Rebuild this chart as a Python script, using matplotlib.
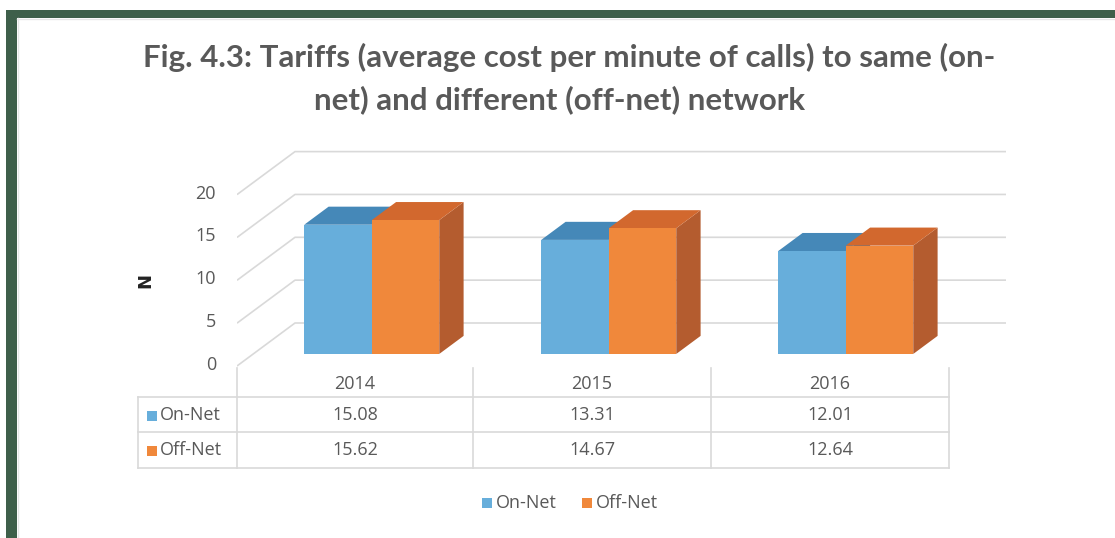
import matplotlib
matplotlib.use("Agg")
import matplotlib.pyplot as plt
from matplotlib.patches import Polygon, Rectangle
from matplotlib.transforms import ScaledTranslation

# ---------------- data ----------------
categories = ["2014", "2015", "2016"]
series_names = ["On-Net", "Off-Net"]
on_net = [15.08, 13.31, 12.01]
off_net = [15.62, 14.67, 12.64]
yticks = [0, 5, 10, 15, 20]
title_lines = ["Fig. 4.3: Tariffs (average cost per minute of calls) to same (on-",
               "net) and different (off-net) network"]
ylabel = "N"

# ---------------- style ----------------
W_PX, H_PX = 1115, 538
TXT = "#595959"
GRID = "#d9d9d9"
GREEN = "#3e5f4a"
front_cols = ["#67aedb", "#f0883b"]
top_cols = ["#4588b8", "#d2682e"]
side_cols = ["#3f7aa6", "#b45c2f"]
TFONT = "Lato"
FONT = "Open Sans"
FS = 13

fig = plt.figure(figsize=(W_PX / 100, H_PX / 100), dpi=100)
fig.patch.set_facecolor("white")

# decoration axes in pixel coordinates (layout only)
deco = fig.add_axes([0, 0, 1, 1])
deco.set_xlim(0, W_PX)
deco.set_ylim(H_PX, 0)
deco.axis("off")

# border
deco.add_patch(Rectangle((6, 10), W_PX - 6, 8, color=GREEN, lw=0))
deco.add_patch(Rectangle((6, 10), 11, H_PX - 10, color=GREEN, lw=0))
deco.plot([17, W_PX], [18.8, 18.8], color="#e6e6e6", lw=1)
deco.plot([18, 18], [18, H_PX], color="#e6e6e6", lw=1)

# title
deco.text(569, 57, title_lines[0], ha="center", va="center", fontsize=22.5,
          fontweight="bold", color=TXT, family=TFONT)
deco.text(560, 100, title_lines[1], ha="center", va="center", fontsize=22.5,
          fontweight="bold", color=TXT, family=TFONT)

# ---------------- main plot axes (value units) ----------------
y0px = 366.0
ppu = 8.57            # pixels per value unit
x_left_px, cat_px = 237.0, 237.0
xlim = (-0.5, 2.75)
ylim = (-0.5, 26.0)
ax_left = x_left_px / W_PX
ax_w = (xlim[1] - xlim[0]) * cat_px / W_PX
bottom_px = y0px - ylim[0] * ppu
top_px = y0px - ylim[1] * ppu
ax = fig.add_axes([ax_left, (H_PX - bottom_px) / H_PX, ax_w, (bottom_px - top_px) / H_PX])
ax.set_xlim(*xlim)
ax.set_ylim(*ylim)
ax.axis("off")
ax.patch.set_alpha(0)

DX = 58.0 / cat_px     # full depth, category units
DY = 43.0 / ppu        # full depth, value units
ncat = len(categories)

# gridlines: left wall diagonal + back wall
for v in yticks:
    ax.plot([-0.5, -0.5 + DX, ncat - 0.5 + DX], [v, v + DY, v + DY],
            color=GRID, lw=1.2, zorder=1, solid_capstyle="butt")
    ax.text(-0.5, v, str(v), ha="right", va="center", fontsize=FS,
            color=TXT, family=FONT,
            transform=ax.transData + ScaledTranslation(-21 / 100, 1 / 100, fig.dpi_scale_trans))

ax.text(-0.5, 10, ylabel, ha="center", va="center", rotation=90, fontsize=13,
        fontweight="bold", color="#222222", family="DejaVu Sans",
        transform=ax.transData + ScaledTranslation(-92 / 100, 0, fig.dpi_scale_trans))

# 3D bars
BW = 67.5 / cat_px
f1, f2 = 0.28, 0.70
for i in range(ncat):
    for j, vals in enumerate([on_net, off_net]):
        v = vals[i]
        x0 = i - BW + j * BW
        xa, xb = x0 + f1 * DX, x0 + BW + f1 * DX
        ya = f1 * DY
        xc, xd = x0 + f2 * DX, x0 + BW + f2 * DX
        yb = f2 * DY
        z = 3 + j
        ax.add_patch(Polygon([(xb, ya), (xd, yb), (xd, v + yb), (xb, v + ya)],
                             closed=True, fc=side_cols[j], ec="none", zorder=z))
        ax.add_patch(Polygon([(xa, v + ya), (xb, v + ya), (xd, v + yb), (xc, v + yb)],
                             closed=True, fc=top_cols[j], ec="none", zorder=z))
        ax.add_patch(Polygon([(xa, ya), (xb, ya), (xb, v + ya), (xa, v + ya)],
                             closed=True, fc=front_cols[j], ec="none", zorder=z))

# ---------------- data table (layout in pixels) ----------------
col_edges = [237, 473, 711, 949]
row_lines = [397, 432, 468]
tbl_left = 138
for x in col_edges:
    deco.plot([x, x], [368, row_lines[-1]], color=GRID, lw=1.2)
for y in row_lines:
    deco.plot([tbl_left, col_edges[-1]], [y, y], color=GRID, lw=1.2)
deco.plot([tbl_left, tbl_left], [row_lines[0], row_lines[-1]], color=GRID, lw=1.2)

for i, cat in enumerate(categories):
    cx = (col_edges[i] + col_edges[i + 1]) / 2
    deco.text(cx, 384, cat, ha="center", va="center", fontsize=FS, color=TXT, family=FONT)
    for r, vals in enumerate([on_net, off_net]):
        cy = (row_lines[r] + row_lines[r + 1]) / 2
        deco.text(cx, cy, f"{vals[i]:.2f}", ha="center", va="center", fontsize=FS,
                  color=TXT, family=FONT)

for r, name in enumerate(series_names):
    cy = (row_lines[r] + row_lines[r + 1]) / 2
    deco.add_patch(Rectangle((147, cy - 4), 10, 10, color=front_cols[r], lw=0))
    deco.text(160, cy, name, ha="left", va="center", fontsize=FS, color=TXT, family=FONT)

# bottom legend
leg_x = [482, 582]
for k, name in enumerate(series_names):
    deco.add_patch(Rectangle((leg_x[k], 498), 10, 10, color=front_cols[k], lw=0))
    deco.text(leg_x[k] + 14, 503, name, ha="left", va="center", fontsize=FS,
              color=TXT, family=FONT)

fig.savefig("out.png", dpi=100, facecolor="white")
